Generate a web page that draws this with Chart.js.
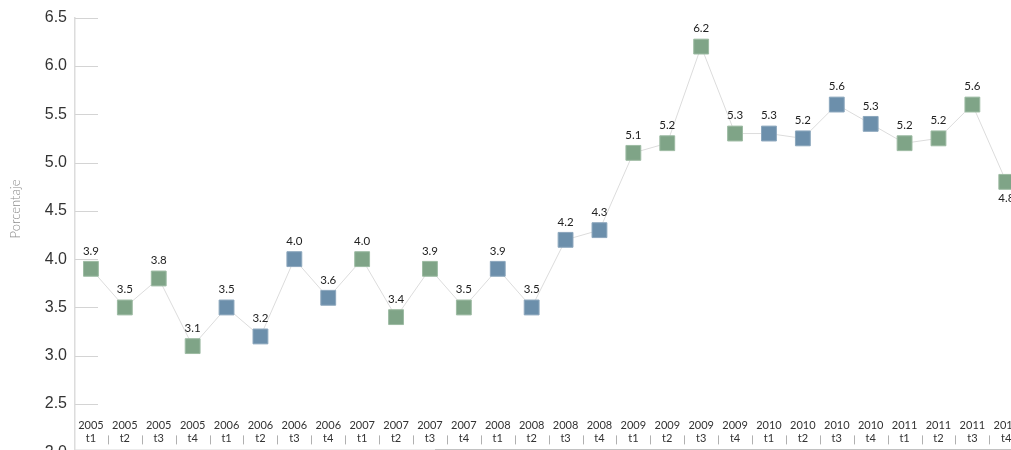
<!DOCTYPE html>
<html>
<head>
<meta charset="utf-8">
<script src="https://cdn.jsdelivr.net/npm/chart.js@4/dist/chart.umd.min.js"></script>
<style>
  html, body { margin: 0; padding: 0; background: #fff; overflow: hidden; }
  .wrap { position: relative; width: 1011px; height: 470px; }
</style>
</head>
<body>
<div class="wrap"><canvas id="myChart"></canvas></div>
<script>
// datos del grafico (tasa trimestral, porcentaje)
const anios = [2005, 2005, 2005, 2005, 2006, 2006, 2006, 2006, 2007, 2007, 2007, 2007, 2008, 2008,
  2008, 2008, 2009, 2009, 2009, 2009, 2010, 2010, 2010, 2010, 2011, 2011, 2011, 2011];
const trimestres = ["t1", "t2", "t3", "t4", "t1", "t2", "t3", "t4", "t1", "t2", "t3", "t4", "t1", "t2",
  "t3", "t4", "t1", "t2", "t3", "t4", "t1", "t2", "t3", "t4", "t1", "t2", "t3", "t4"];
const valores = [3.9, 3.5, 3.8, 3.1, 3.5, 3.2, 4.0, 3.6, 4.0, 3.4, 3.9, 3.5, 3.9, 3.5,
  4.2, 4.3, 5.1, 5.2, 6.2, 5.3, 5.3, 5.25, 5.6, 5.4, 5.2, 5.25, 5.6, 4.8];
const etiquetas = ["3.9", "3.5", "3.8", "3.1", "3.5", "3.2", "4.0", "3.6", "4.0", "3.4", "3.9", "3.5", "3.9", "3.5",
  "4.2", "4.3", "5.1", "5.2", "6.2", "5.3", "5.3", "5.2", "5.6", "5.3", "5.2", "5.2", "5.6", "4.8"];
const ticksY = [2.0, 2.5, 3.0, 3.5, 4.0, 4.5, 5.0, 5.5, 6.0, 6.5];

const verde = "#7fa487";
const azul = "#6c8fab";

// plugin para las marcas cortas del eje y, etiquetas del eje x y valores
const dibujos = {
  id: "dibujos",
  afterDatasetsDraw(chart) {
    const ctx = chart.ctx;
    const x = chart.scales.x;
    const y = chart.scales.y;
    const area = chart.chartArea;
    ctx.save();

    // marcas cortas
    ctx.strokeStyle = "#d4d4d4";
    ctx.lineWidth = 1;
    ticksY.forEach((t) => {
      const py = Math.round(y.getPixelForValue(t)) + 0.5;
      ctx.beginPath();
      ctx.moveTo(area.left, py);
      ctx.lineTo(area.left + 23, py);
      ctx.stroke();
    });

    // titulo del eje y
    ctx.save();
    ctx.translate(16, 209);
    ctx.rotate(-Math.PI / 2);
    ctx.fillStyle = "#8c8c8c";
    ctx.textAlign = "center";
    ctx.textBaseline = "middle";
    ctx.font = "300 13px Lato, 'Liberation Sans', sans-serif";
    ctx.fillText("Porcentaje", 0, 0);
    ctx.restore();

    // linea inferior
    const base = area.bottom - 3;
    ctx.fillStyle = "#e0e0e0";
    ctx.fillRect(area.left, base, 360, 1.5);
    ctx.fillStyle = "#9a9a9a";
    ctx.fillRect(area.left + 360, base, chart.width - area.left - 360, 4);

    // etiquetas del eje x
    ctx.fillStyle = "#333";
    ctx.textAlign = "center";
    ctx.textBaseline = "middle";
    ctx.font = "11px Lato, 'Liberation Sans', sans-serif";
    for (let i = 0; i < anios.length; i++) {
      const px = x.getPixelForValue(i);
      ctx.fillText(String(anios[i]), px, area.bottom - 27);
      ctx.fillText(trimestres[i], px, area.bottom - 14);
      if (i < anios.length - 1) {
        const sx = Math.round(x.getPixelForValue(i + 0.5)) + 0.5;
        ctx.strokeStyle = "#b0b0b0";
        ctx.beginPath();
        ctx.moveTo(sx, area.bottom - 17);
        ctx.lineTo(sx, area.bottom - 8);
        ctx.stroke();
      }
    }

    // valores sobre los puntos
    const meta = chart.getDatasetMeta(0);
    ctx.font = "11.5px Lato, 'Liberation Sans', sans-serif";
    ctx.fillStyle = "#222";
    meta.data.forEach((p, i) => {
      const abajo = i === meta.data.length - 1;
      ctx.fillText(etiquetas[i], p.x, abajo ? p.y + 16 : p.y - 18);
    });
    ctx.restore();
  },
};

const ctx = document.getElementById("myChart");
new Chart(ctx, {
  type: "line",
  data: {
    datasets: [
      {
        label: "Porcentaje",
        data: valores.map((v, i) => ({ x: i, y: v })),
        clip: false,
        borderColor: "#dcdcdc",
        borderWidth: 1,
        tension: 0,
        pointStyle: "rect",
        pointRadius: 10.5,
        pointHoverRadius: 10.5,
        pointBorderWidth: 1,
        pointBackgroundColor: (c) => (anios[c.dataIndex] % 2 ? verde : azul),
        pointBorderColor: (c) => (anios[c.dataIndex] % 2 ? "#9dbba3" : "#8ca7bd"),
      },
    ],
  },
  options: {
    responsive: true,
    maintainAspectRatio: false,
    animation: false,
    layout: { padding: { top: 11, right: 0, bottom: 11, left: 0 } },
    plugins: {
      legend: { display: false },
      tooltip: { enabled: false },
    },
    scales: {
      x: {
        type: "linear",
        display: false,
        min: -0.47,
        max: 26.8,
      },
      y: {
        min: 2,
        max: 6.5,
        afterFit: (s) => {
          s.width = 75;
        },
        afterBuildTicks: (s) => {
          s.ticks = ticksY.map((v) => ({ value: v }));
        },
        ticks: {
          padding: 8,
          color: "#333",
          font: { family: "'Liberation Sans', Arial, sans-serif", size: 16 },
          callback: (v) => v.toFixed(1),
        },
        grid: { display: true, drawOnChartArea: false, drawTicks: false, color: "#dcdcdc" },
        border: { display: true, color: "#dcdcdc", width: 1.5 },
        title: { display: false },
      },
    },
  },
  plugins: [dibujos],
});
</script>
</body>
</html>
